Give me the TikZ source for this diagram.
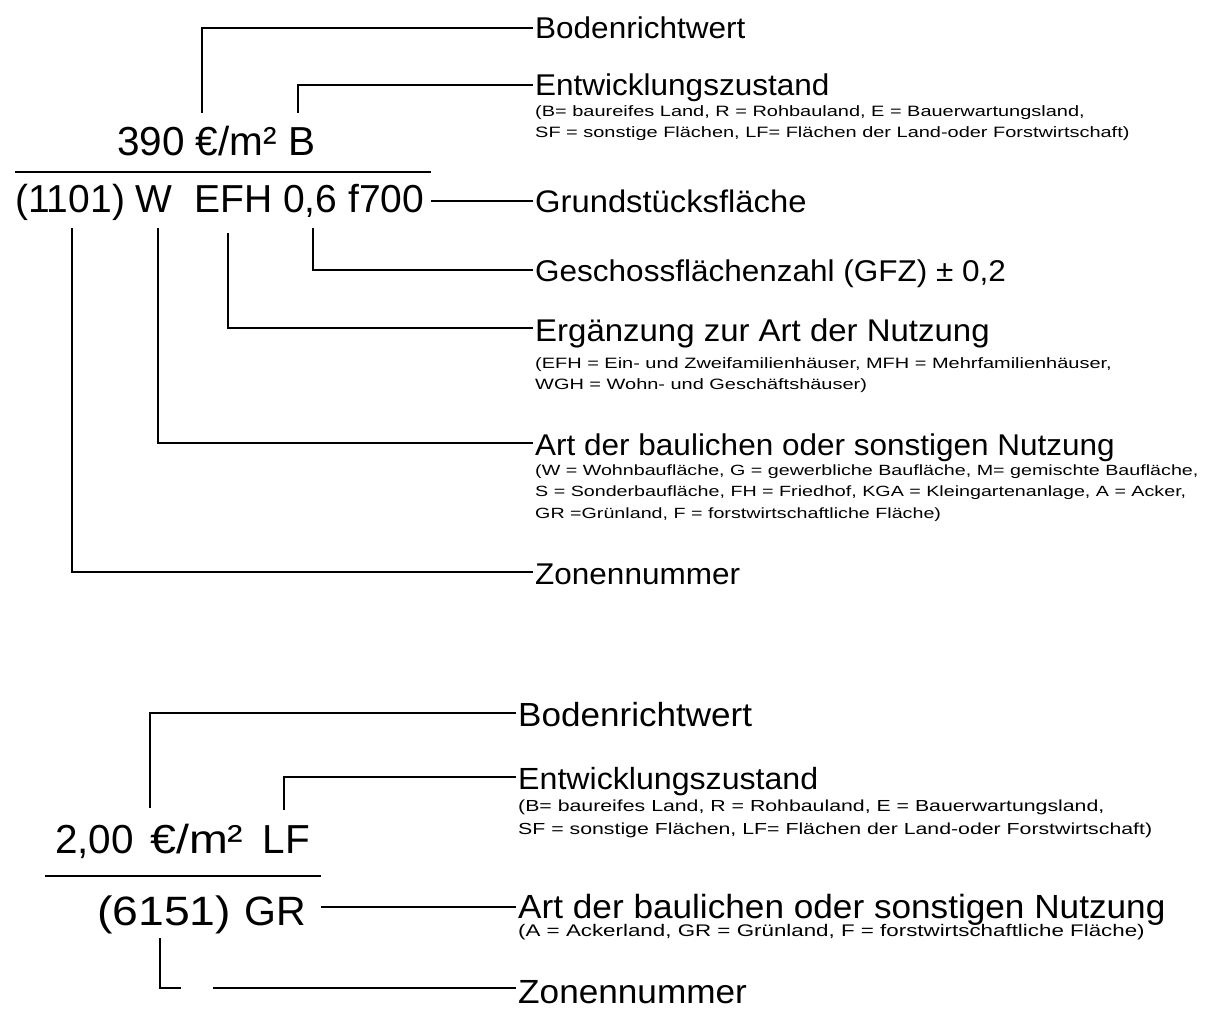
\documentclass[tikz,border=0pt]{standalone}
\usepackage{fontspec}
\setmainfont{Liberation Sans}
\newfontfamily\labfont[FakeStretch=1.05]{Liberation Sans}
\newfontfamily\subfont[FakeStretch=1.33]{Liberation Sans}
\begin{document}
\begin{tikzpicture}[x=1pt,y=-1pt,
  conn/.style={line width=2.9pt},
  frac/.style={line width=1.3pt},
  lab/.style={anchor=base west, inner sep=0pt, font=\labfont\fontsize{30}{30}\selectfont},
  subtxt/.style={anchor=base west, inner sep=0pt, align=left, font=\subfont\fontsize{15}{21}\selectfont},
  big/.style={anchor=base west, inner sep=0pt, font=\fontsize{40.5}{40}\selectfont}]
\useasboundingbox[fill=white] (0,0) rectangle (1209,1027);

% ---------------- top example ----------------
\node[big] (top1) at (117,156) {390 €/m² B};
\node[big, font=\fontsize{39}{39}\selectfont] (top2) at (15,212) {(1101) W~ EFH 0,6 f700};
\coordinate (fl1) at (15,172);
\coordinate (fr1) at (431,172);
\draw[frac] (fl1) -- (fr1);

\node[lab] (tBoden) at (535,39) {Bodenrichtwert};
\node[lab] (tEntw) at (535,96) {Entwicklungszustand};
\node[subtxt] (tEntwS) at (535,138) {(B= baureifes Land, R = Rohbauland, E = Bauerwartungsland,\\SF = sonstige Flächen, LF= Flächen der Land-oder Forstwirtschaft)};
\node[lab, font=\labfont\fontsize{31.2}{31}\selectfont] (tGrund) at (535,212) {Grundstücksfläche};
\node[lab] (tGFZ) at (535,281) {Geschossflächenzahl (GFZ) ± 0,2};
\node[lab, font=\labfont\fontsize{31.4}{31}\selectfont] (tErg) at (535,341) {Ergänzung zur Art der Nutzung};
\node[subtxt] (tErgS) at (535,389) {(EFH = Ein- und Zweifamilienhäuser, MFH = Mehrfamilienhäuser,\\WGH = Wohn- und Geschäftshäuser)};
\node[lab] (tArt) at (535,455) {Art der baulichen oder sonstigen Nutzung};
\node[subtxt, font=\subfont\fontsize{14.8}{21.5}\selectfont] (tArtS) at (535,518) {(W = Wohnbaufläche, G = gewerbliche Baufläche, M= gemischte Baufläche,\\S = Sonderbaufläche, FH = Friedhof, KGA = Kleingartenanlage, A = Acker,\\GR =Grünland, F = forstwirtschaftliche Fläche)};
\node[lab] (tZone) at (535,584) {Zonennummer};

\coordinate (a1) at (202,113); \coordinate (a2) at (533,28);
\draw[conn] (a1) |- (a2);
\coordinate (b1) at (298,113); \coordinate (b2) at (533,85);
\draw[conn] (b1) |- (b2);
\coordinate (c1) at (431,201); \coordinate (c2) at (533,201);
\draw[conn] (c1) -- (c2);
\coordinate (d1) at (313,228); \coordinate (d2) at (533,270);
\draw[conn] (d1) |- (d2);
\coordinate (e1) at (228,233); \coordinate (e2) at (533,328);
\draw[conn] (e1) |- (e2);
\coordinate (g1) at (158,228); \coordinate (g2) at (533,443);
\draw[conn] (g1) |- (g2);
\coordinate (h1) at (72,228); \coordinate (h2) at (533,572);
\draw[conn] (h1) |- (h2);

% ---------------- bottom example ----------------
\node[big] (bot1) at (55,853) {2,00\hspace{5pt} \scalebox{1.15}[1]{€/m²}\hspace{8pt} LF};
\node[big, font=\fontsize{41}{41}\selectfont] (bot2) at (97,925) {\scalebox{1.13}[1]{(6151)}\hspace{2pt} GR};
\coordinate (fl2) at (45,876);
\coordinate (fr2) at (321,876);
\draw[frac] (fl2) -- (fr2);

\node[lab, font=\labfont\fontsize{33.4}{33}\selectfont] (bBoden) at (518,726) {Bodenrichtwert};
\node[lab, font=\labfont\fontsize{30.6}{31}\selectfont] (bEntw) at (518,789) {Entwicklungszustand};
\node[subtxt, font=\subfont\fontsize{16}{23}\selectfont] (bEntwS) at (518,834) {(B= baureifes Land, R = Rohbauland, E = Bauerwartungsland,\\SF = sonstige Flächen, LF= Flächen der Land-oder Forstwirtschaft)};
\node[lab, font=\labfont\fontsize{33.5}{33}\selectfont] (bArt) at (518,918) {Art der baulichen oder sonstigen Nutzung};
\node[subtxt, font=\subfont\fontsize{16.8}{21}\selectfont] (bArtS) at (518,936) {(A = Ackerland, GR = Grünland, F = forstwirtschaftliche Fläche)};
\node[lab, font=\labfont\fontsize{33.5}{33}\selectfont] (bZone) at (518,1003) {Zonennummer};

\coordinate (p1) at (150,808); \coordinate (p2) at (516,713);
\draw[conn] (p1) |- (p2);
\coordinate (q1) at (284,810); \coordinate (q2) at (516,777);
\draw[conn] (q1) |- (q2);
\coordinate (r1) at (321,907); \coordinate (r2) at (516,907);
\draw[conn] (r1) -- (r2);
\coordinate (s1) at (160,938); \coordinate (s2) at (181,988);
\draw[conn] (s1) |- (s2);
\coordinate (s3) at (213,988); \coordinate (s4) at (516,988);
\draw[conn] (s3) -- (s4);
\end{tikzpicture}
\end{document}
